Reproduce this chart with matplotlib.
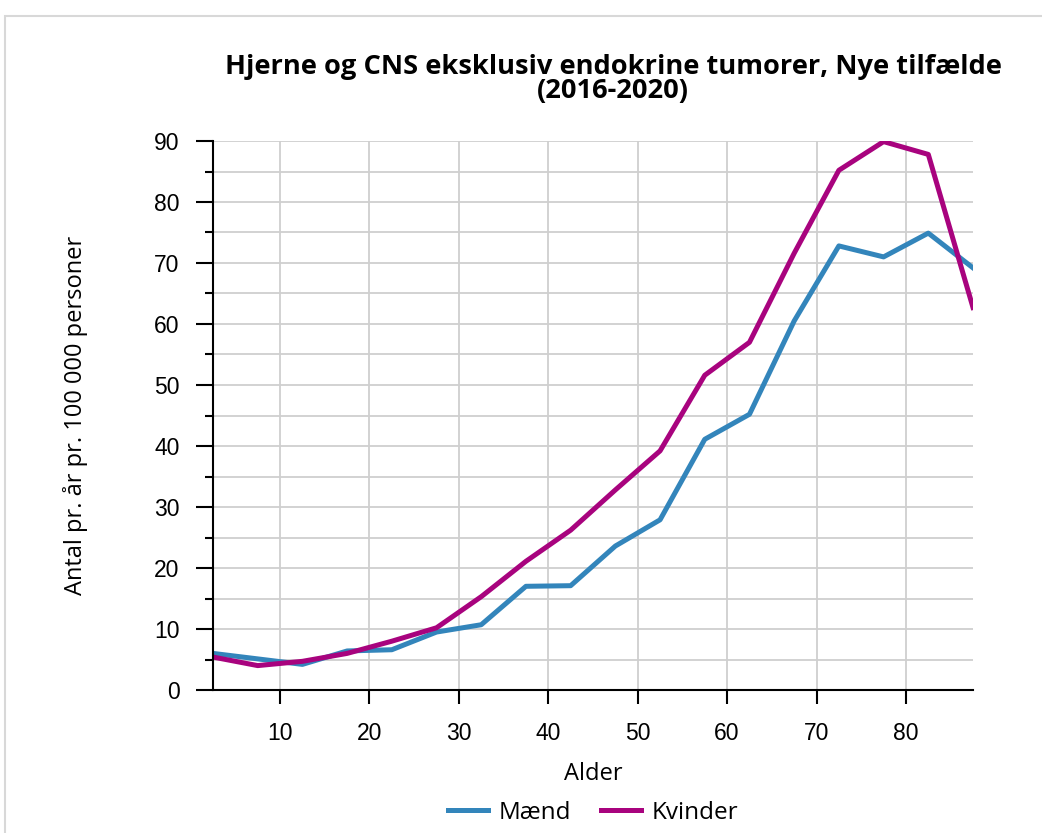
'''
brain and CNS tumours, new cases per 100 000 by age
'''
import numpy as np
import matplotlib.pyplot as plt
from matplotlib.patches import Rectangle

# age group midpoints (0-4, 5-9, ..., 85+)
alder = [2.5, 7.5, 12.5, 17.5, 22.5, 27.5, 32.5, 37.5, 42.5,
         47.5, 52.5, 57.5, 62.5, 67.5, 72.5, 77.5, 82.5, 87.5]
maend = [6.0, 5.1, 4.2, 6.4, 6.6, 9.5, 10.7, 17.0, 17.1,
         23.6, 27.9, 41.1, 45.2, 60.5, 72.8, 71.0, 74.9, 69.2]
kvinder = [5.4, 4.0, 4.7, 6.0, 8.0, 10.2, 15.3, 21.1, 26.2,
           32.8, 39.2, 51.6, 57.0, 71.6, 85.2, 89.9, 87.8, 62.7]

blue = '#3385bb'
magenta = '#a8037e'

W, H = 1042, 833
fig = plt.figure(figsize=(W/100, H/100), dpi=100)
ax = fig.add_axes([213/W, 1-690/H, (973-213)/W, (690-141)/H])

# grey panel border (only top and left edges show)
fig.patches.append(Rectangle((5/W, -0.2), 1.2, 1.2 - 16/H,
                             transform=fig.transFigure, fill=False,
                             edgecolor='#d8d8d8', linewidth=1.5))

ax.plot(alder, maend, color=blue, lw=3.6, label='Mænd')
ax.plot(alder, kvinder, color=magenta, lw=3.6, label='Kvinder')

ax.set_xlim(2.5, 87.5)
ax.set_ylim(0, 90)
ax.set_xticks(np.arange(10, 81, 10))
ax.set_yticks(np.arange(0, 91, 10))
ax.set_yticks(np.arange(5, 90, 10), minor=True)

ax.grid(True, which='both', axis='y', color='#cfcfcf', lw=1.3)
ax.grid(True, which='major', axis='x', color='#cfcfcf', lw=1.3)
ax.set_axisbelow(True)

for s in ['top', 'right']:
    ax.spines[s].set_visible(False)
for s in ['left', 'bottom']:
    ax.spines[s].set_linewidth(1.5)

ax.tick_params(axis='y', which='major', length=12, width=1.5, pad=12,
               labelsize=16.5)
ax.tick_params(axis='y', which='minor', length=6, width=1.5)
ax.tick_params(axis='x', which='major', length=10, width=1.5, pad=13,
               labelsize=16.5)
for t in ax.get_xticklabels() + ax.get_yticklabels():
    t.set_fontfamily('Liberation Sans')

ax.set_xlabel('Alder', fontsize=17, family='Open Sans', labelpad=12)
ax.set_ylabel('Antal pr. år pr. 100 000 personer', fontsize=17,
              family='Open Sans', labelpad=48)

fig.text(613/W, 1-79/H, 'Hjerne og CNS eksklusiv endokrine tumorer, Nye tilfælde\n(2016-2020)',
         ha='center', va='center', fontsize=19.6, fontweight='bold',
         family='Open Sans', linespacing=0.88)

fig.legend(loc='center', bbox_to_anchor=(593/W, 1-813/H), ncol=2,
           frameon=False, prop={'family': 'Open Sans', 'size': 17.5},
           handlelength=1.65, columnspacing=1.2, handletextpad=0.45)

plt.savefig('out.png', dpi=100)
